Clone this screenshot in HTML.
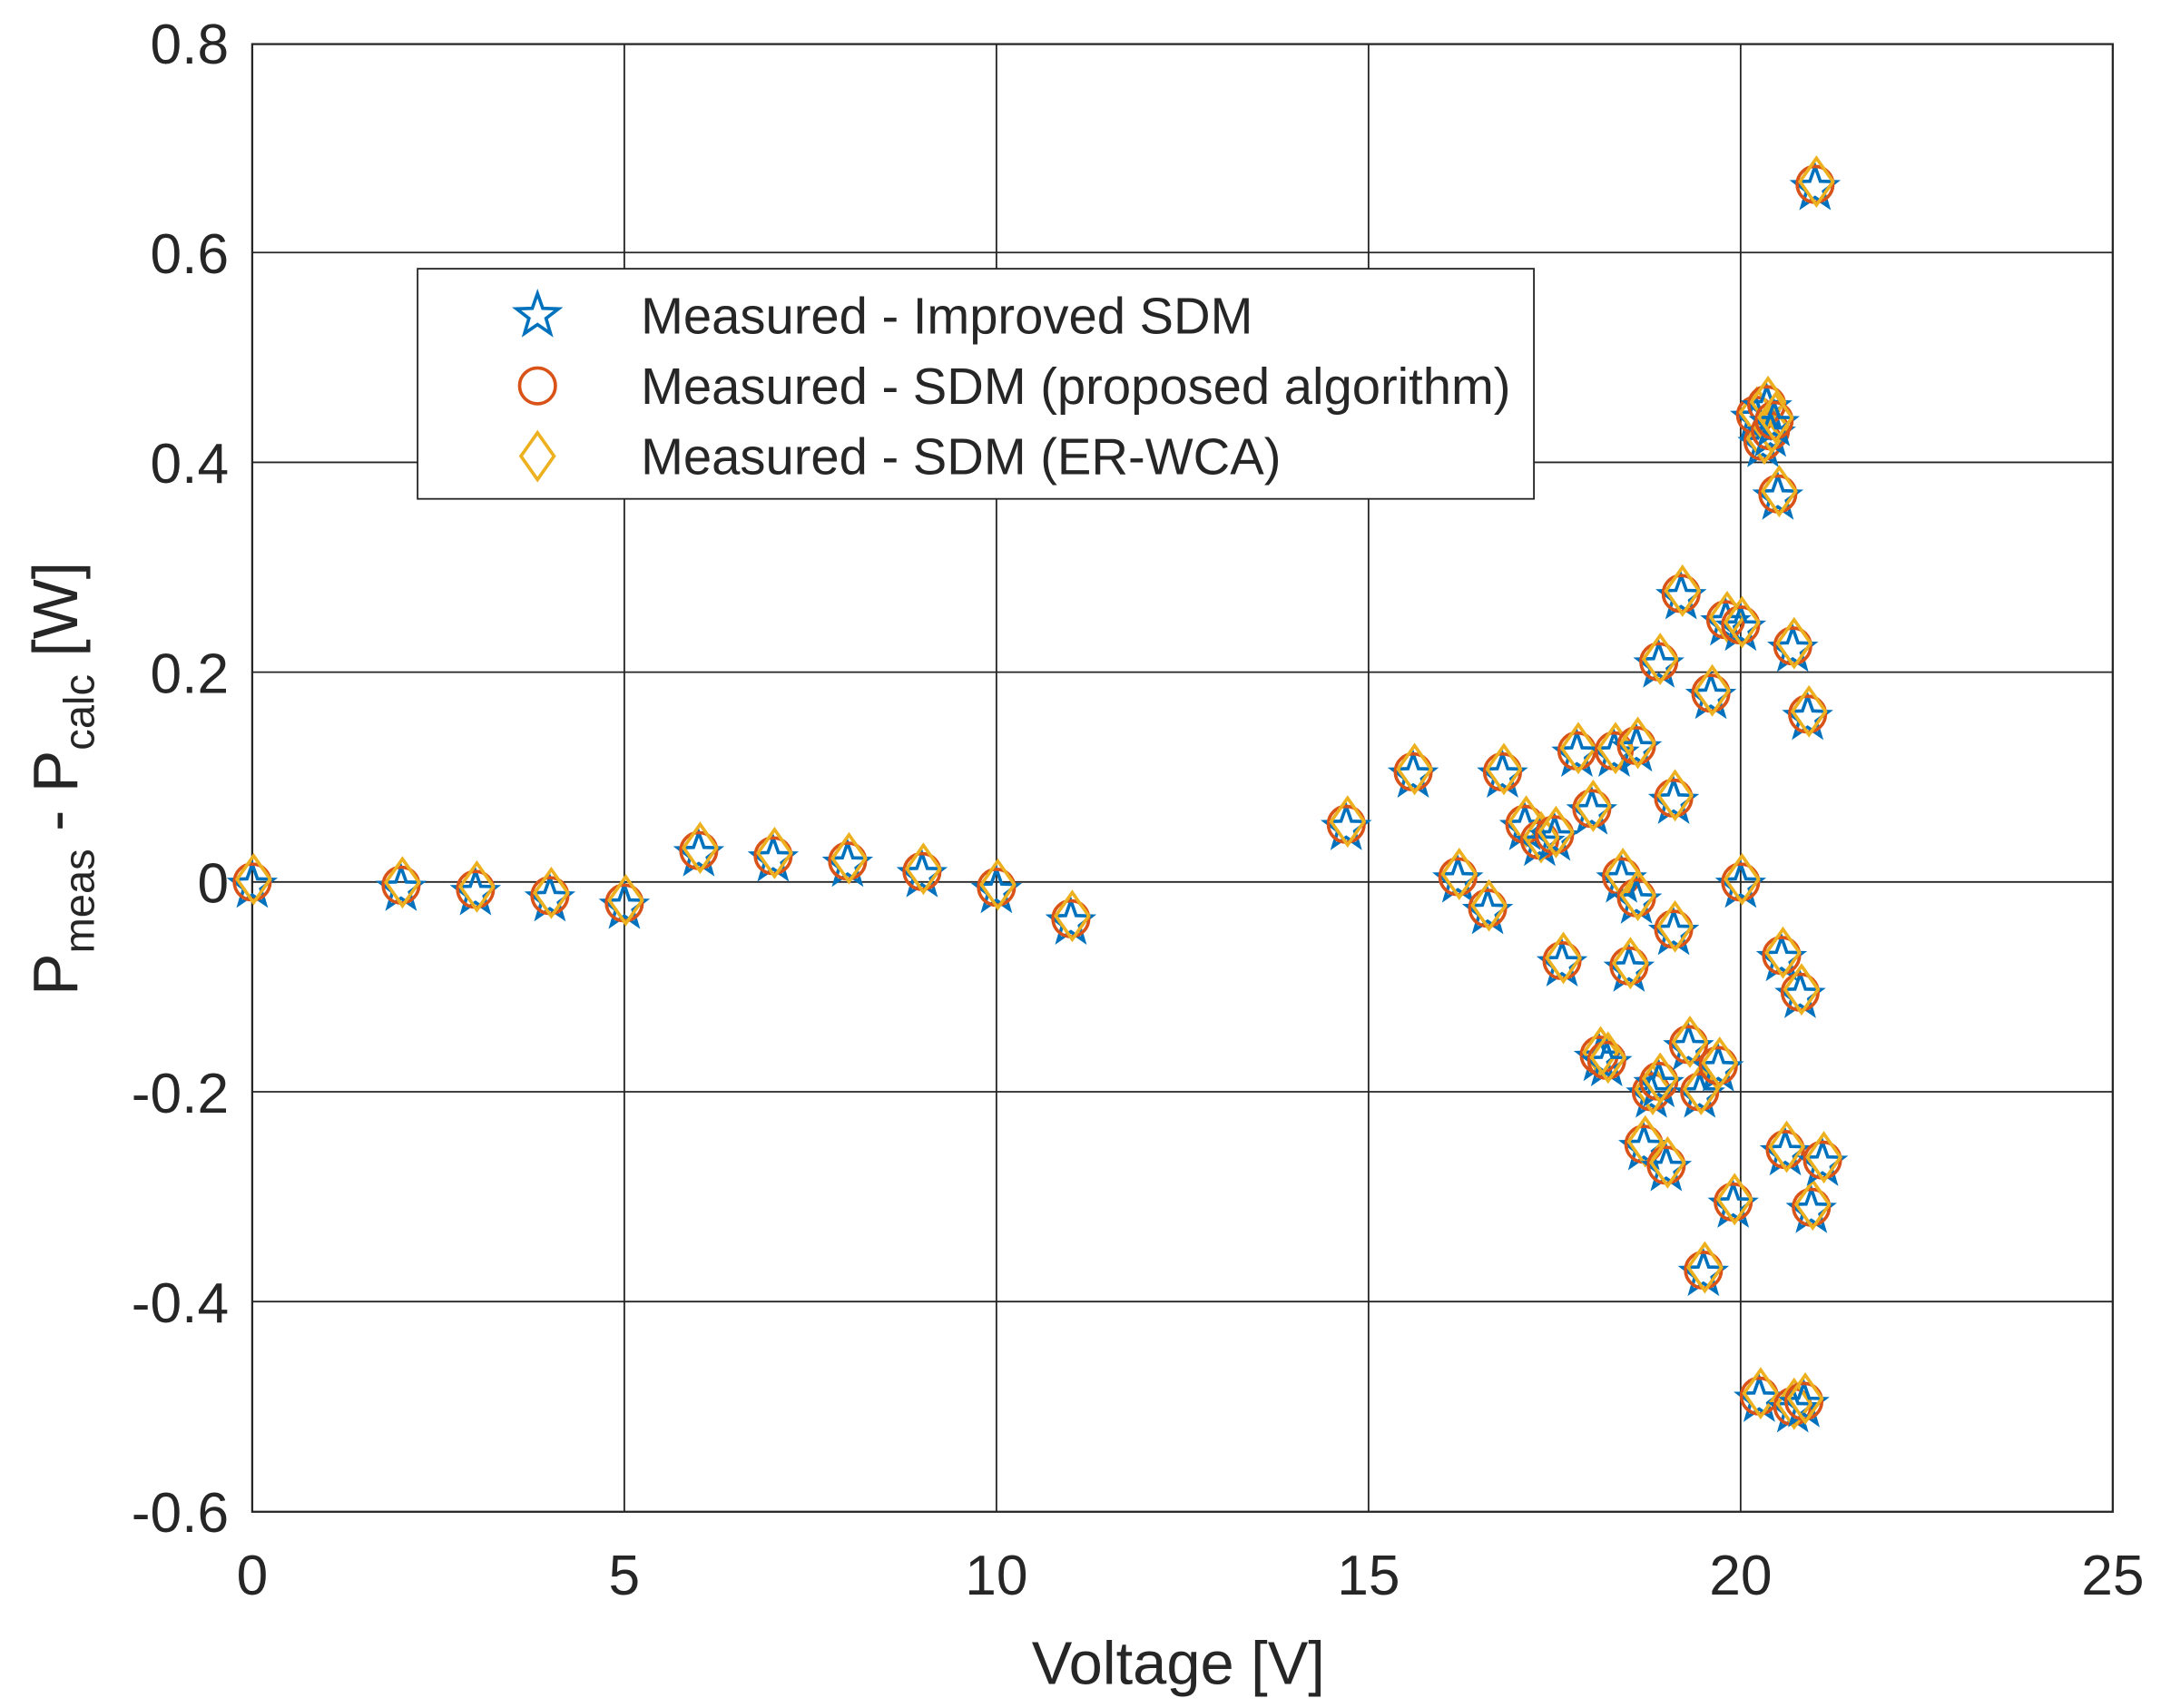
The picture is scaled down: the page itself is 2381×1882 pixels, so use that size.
<!DOCTYPE html>
<html><head><meta charset="utf-8"><style>
html,body{margin:0;padding:0;background:#fff;}
svg{display:block;}
text{font-family:"Liberation Sans",Arial,sans-serif;fill:#262626;}
</style></head><body>
<svg id="s" width="2381" height="1882" viewBox="0 0 1568 1239.4" xmlns="http://www.w3.org/2000/svg">
<rect x="0" y="0" width="1568" height="1240" fill="#fff"/>
<g id="grid" stroke="#262626" stroke-width="1.2"></g>
<rect x="183" y="32" width="1350" height="1065" fill="none" stroke="#262626" stroke-width="1.5"/>
<g id="ticks" font-size="41"></g>
<text x="855" y="1222" font-size="44" text-anchor="middle">Voltage [V]</text>
<text transform="translate(56,565) rotate(-90)" font-size="46" text-anchor="middle">P<tspan font-size="31" dy="12">meas</tspan><tspan dy="-12"> - P</tspan><tspan font-size="31" dy="12">calc</tspan><tspan dy="-12"> [W]</tspan></text>
<g id="pts" fill="none" stroke-width="2.4"></g>
<rect x="303" y="195" width="810" height="167" fill="#fff" stroke="#262626" stroke-width="1.2"/>
<g id="leg" fill="none" stroke-width="2.4"></g>
<text x="465" y="242" font-size="37">Measured - Improved SDM</text>
<text x="465" y="293" font-size="37">Measured - SDM (proposed algorithm)</text>
<text x="465" y="344" font-size="37">Measured - SDM (ER-WCA)</text>
</svg>
<script>
const NS="http://www.w3.org/2000/svg";
function el(p,t,a){const e=document.createElementNS(NS,t);for(const k in a)e.setAttribute(k,a[k]);p.appendChild(e);return e;}
const X=v=>183+v*54, Y=p=>640-p*761.25;
const g=document.getElementById('grid'),tk=document.getElementById('ticks');
for(let v=0;v<=25;v+=5){if(v>0&&v<25)el(g,'line',{x1:X(v),x2:X(v),y1:32,y2:1097});
 const t=el(tk,'text',{x:X(v),y:1157,'text-anchor':'middle'});t.textContent=v;}
for(let i=-3;i<=4;i++){const p=i*0.2,y=Y(p);if(i>-3&&i<4)el(g,'line',{x1:183,x2:1533,y1:y,y2:y});
 const t=el(tk,'text',{x:166,y:y+15,'text-anchor':'end'});t.textContent=(i==0?'0':p.toFixed(1));}
function star(p,x,y){let d='';for(let i=0;i<10;i++){const r=i%2?6.5:16,a=-Math.PI/2+i*Math.PI/5;d+=(i?'L':'M')+(x+r*Math.cos(a)).toFixed(1)+','+(y+r*Math.sin(a)).toFixed(1);}
 el(p,'path',{d:d+'Z',stroke:'#0072BD'});}
function circ(p,x,y){el(p,'circle',{cx:x,cy:y,r:13,stroke:'#D95319'});}
function dia(p,x,y){el(p,'path',{d:`M${x},${y-17}L${x+12},${y}L${x},${y+17}L${x-12},${y}Z`,stroke:'#EDB120'});}
const D=[[0,0],[2,-0.003],[3,-0.007],[4,-0.013],[5,-0.02],[6,0.03],[7,0.025],[8,0.02],[9,0.01],[10,-0.005],[11,-0.035],[14.7,0.055],[15.6,0.105],[16.2,0.005],[16.6,-0.025],[16.8,0.105],[17.1,0.055],[17.3,0.04],[17.5,0.045],[17.6,-0.075],[17.8,0.125],[18.0,0.07],[18.1,-0.165],[18.2,-0.17],[18.3,0.125],[18.4,0.005],[18.5,-0.08],[18.6,-0.015],[18.6,0.13],[18.7,-0.25],[18.8,-0.2],[18.9,-0.19],[18.9,0.21],[19.0,-0.27],[19.1,0.08],[19.1,-0.045],[19.2,0.275],[19.3,-0.155],[19.45,-0.2],[19.5,-0.37],[19.6,0.18],[19.7,-0.175],[19.8,0.25],[19.9,-0.305],[20.0,0],[20.0,0.245],[20.2,0.445],[20.25,-0.49],[20.3,0.42],[20.35,0.455],[20.4,0.43],[20.45,0.44],[20.5,0.37],[20.55,-0.07],[20.6,-0.255],[20.7,-0.5],[20.7,0.225],[20.8,-0.105],[20.85,-0.495],[20.9,0.16],[20.95,-0.31],[21.0,0.665],[21.1,-0.265]];
const P=document.getElementById('pts');
D.forEach(([v,p])=>{const x=X(v),y=Y(p);star(P,x,y+3);circ(P,x,y);dia(P,x+1,y-2);});
const L=document.getElementById('leg');
star(L,390,229);circ(L,390,280);dia(L,390,331);
</script>
</body></html>
